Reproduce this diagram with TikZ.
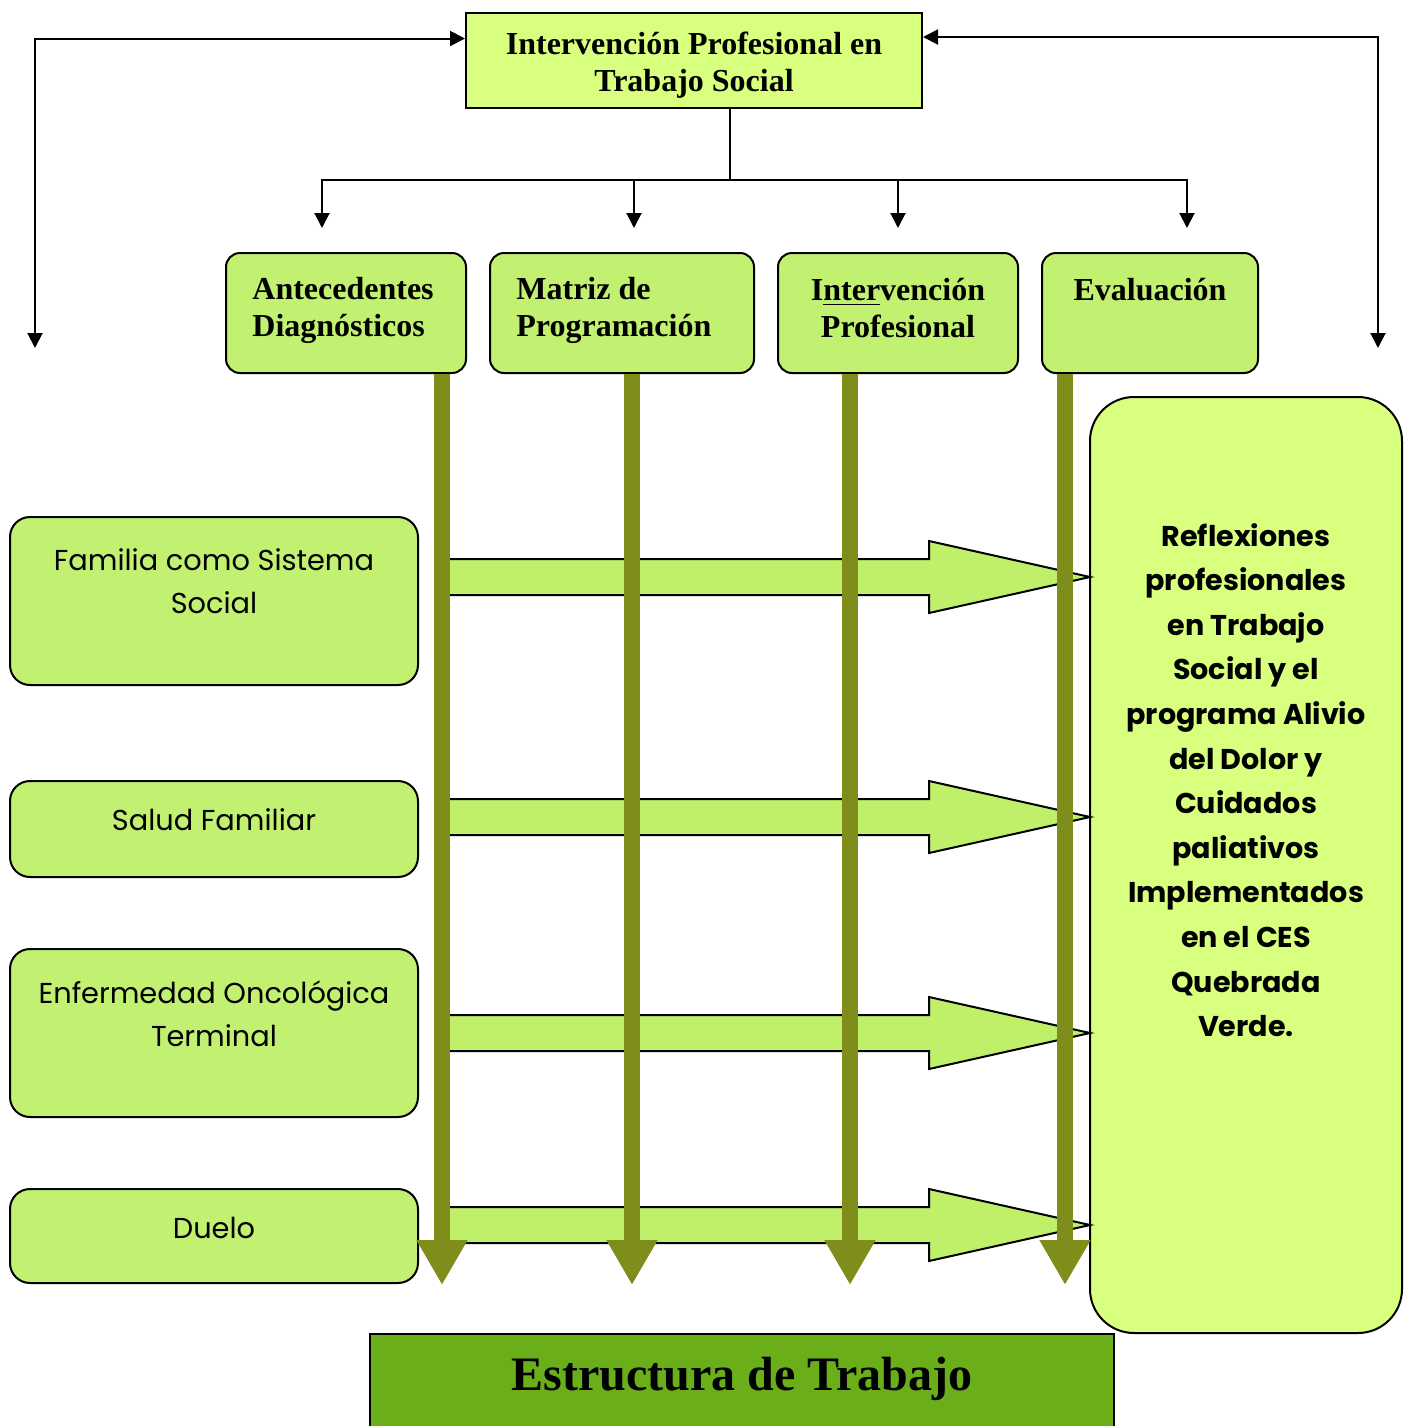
\documentclass[tikz,border=0pt]{standalone}
\usepackage{fontspec}
\setmainfont{Liberation Serif}
\newfontfamily\comicfont{Poppins}
\usetikzlibrary{arrows.meta,positioning}

\definecolor{topgreen}{RGB}{216,255,126}
\definecolor{boxgreen}{RGB}{194,240,112}
\definecolor{arrowgreen}{RGB}{192,240,106}
\definecolor{barolive}{RGB}{127,142,26}
\definecolor{titlegreen}{RGB}{106,174,26}

\begin{document}
\begin{tikzpicture}[x=0.5pt, y=-0.5pt,
    topbox/.style={draw, fill=topgreen, line width=1pt, minimum width=228pt,
      minimum height=47.5pt},
    rowbox/.style={draw, fill=boxgreen, line width=1pt, rounded corners=7pt,
      minimum height=60pt},
    rowtext/.style={inner sep=0pt, font=\bfseries\fontsize{16}{18.5}\selectfont},
    sidebox/.style={draw, fill=boxgreen, line width=1pt, rounded corners=10pt,
      minimum width=204pt},
    sidetext/.style={inner sep=0pt, align=center,
      font=\comicfont\fontsize{14.4}{21.5}\selectfont},
    conn/.style={line width=1pt, -{Triangle[width=7.5pt,length=7.5pt]}},
    loopconn/.style={line width=1pt,
      {Triangle[width=7.5pt,length=7.5pt]}-{Triangle[width=7.5pt,length=7.5pt]}},
    bigarrow/.style={draw, fill=arrowgreen, line width=1pt, line join=miter},
    barline/.style={draw=barolive, line width=8pt,
      -{Triangle[width=24pt,length=22.5pt]}}]
  \useasboundingbox (0,0) rectangle (1410,1426);

  % head of the diagram
  \node[topbox] (top) at (694,60.5) {};
  \node[rowtext, align=center] (toptxt) at (694,65.5) {Intervención Profesional en\\Trabajo Social};

  % the four stages
  \node[rowbox, minimum width=120pt] (ante) at (346,313) {};
  \node[rowbox, minimum width=132pt] (matriz) at (622,313) {};
  \node[rowbox, minimum width=120pt] (interv) at (898,313) {};
  \node[rowbox, minimum width=108pt] (eval) at (1150,313) {};
  \node[rowtext, anchor=west, align=left] (antetxt) at (252,310.5) {Antecedentes\\Diagnósticos};
  \node[rowtext, anchor=west, align=left] (matriztxt) at (516,310.5) {Matriz de\\Programación};
  \node[rowtext, align=center] (intervtxt) at (898,308.5) {I\underline{nter}vención\\Profesional};
  \node[rowtext] (evaltxt) at (1150,290) {Evaluación};

  % topics on the left
  \node[sidebox, minimum height=84pt] (fam) at (214,601) {};
  \node[sidebox, minimum height=48pt] (salud) at (214,829) {};
  \node[sidebox, minimum height=84pt] (enf) at (214,1033) {};
  \node[sidebox, minimum height=47pt] (duelo) at (214,1236) {};
  \node[sidetext] (famtxt) at (214,581.5) {Familia como Sistema\\Social};
  \node[sidetext] (saludtxt) at (214,820) {Salud Familiar};
  \node[sidetext] (enftxt) at (214,1014) {Enfermedad Oncológica\\Terminal};
  \node[sidetext] (dueltxt) at (214,1228) {Duelo};

  % result box
  \node[draw, fill=topgreen, line width=1pt, rounded corners=22pt,
    minimum width=156pt, minimum height=468pt] (refl) at (1246,865) {};
  \node[inner sep=0pt, align=center,
    font=\comicfont\bfseries\fontsize{14.3}{22.3}\selectfont] (refltxt) at (1246,780)
    {Reflexiones\\profesionales\\en Trabajo\\Social y el\\programa Alivio\\del Dolor y\\Cuidados\\paliativos\\Implementados\\en el CES\\Quebrada\\Verde.};

  % title at the bottom
  \node[draw, fill=titlegreen, line width=1pt, minimum width=372pt,
    minimum height=50pt, anchor=north] (struct) at (742,1333) {};
  \node[inner sep=0pt, font=\bfseries\fontsize{24}{28}\selectfont] (structtxt)
    at (742,1379) {Estructura de Trabajo};

  % black connectors
  \coordinate (hub) at (730,180);
  \coordinate (a1) at (322,228);
  \coordinate (a2) at (634,228);
  \coordinate (a3) at (898,228);
  \coordinate (a4) at (1187,228);
  \coordinate (l1) at (35,348);
  \coordinate (r1) at (1378,348);
  \draw[line width=1pt] (top.south -| hub) -- (hub);
  \draw[conn] (hub) -| (a1);
  \draw[conn] (hub) -| (a2);
  \draw[conn] (hub) -| (a3);
  \draw[conn] (hub) -| (a4);
  \draw[loopconn] (l1) |- ([yshift=11pt]top.west);
  \draw[loopconn] (r1) |- ([yshift=11.75pt]top.east);

  % wide arrows into the result box
  \draw[bigarrow] (442,559) -- (929,559) -- (929,541) -- (1090,577) -- (929,613) -- (929,595) -- (442,595);
  \draw[bigarrow] (442,799) -- (929,799) -- (929,781) -- (1090,817) -- (929,853) -- (929,835) -- (442,835);
  \draw[bigarrow] (442,1015) -- (929,1015) -- (929,997) -- (1090,1033) -- (929,1069) -- (929,1051) -- (442,1051);
  \draw[bigarrow] (442,1207) -- (929,1207) -- (929,1189) -- (1090,1225) -- (929,1261) -- (929,1243) -- (442,1243);

  % olive bars
  \coordinate (b1) at (442,1285);
  \coordinate (b2) at (632,1285);
  \coordinate (b3) at (850,1285);
  \coordinate (b4) at (1065,1285);
  \draw[barline] (ante.south -| b1) -- (b1);
  \draw[barline] (matriz.south -| b2) -- (b2);
  \draw[barline] (interv.south -| b3) -- (b3);
  \draw[barline] (eval.south -| b4) -- (b4);
\end{tikzpicture}
\end{document}
